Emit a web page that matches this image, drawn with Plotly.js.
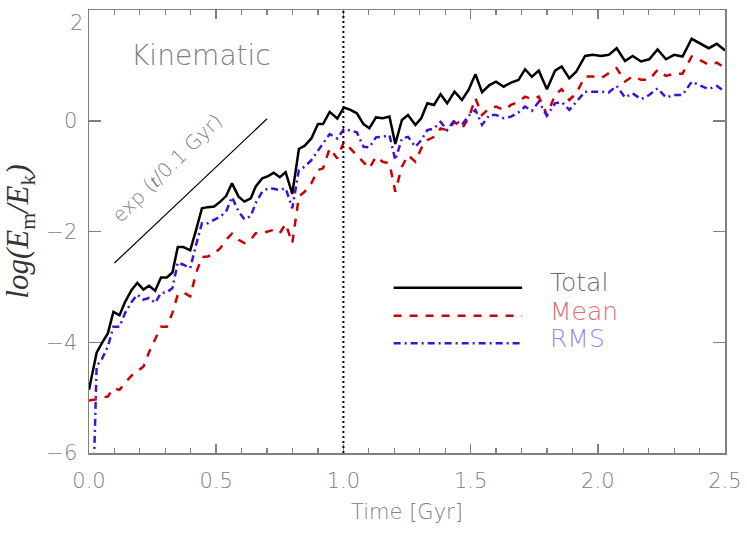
<!DOCTYPE html>
<html>
<head>
<meta charset="utf-8">
<script src="https://cdn.plot.ly/plotly-3.0.1.min.js"></script>
<style>
  html,body{margin:0;padding:0;background:#fff;}
  #chart{width:747px;height:534px;}
</style>
</head>
<body>
<div id="chart"></div>
<script>
// time axis (Gyr)
const times=[0.0,0.03,0.05,0.074,0.096,0.12,0.142,0.168,0.19,0.214,
  0.236,0.26,0.283,0.306,0.328,0.349,0.371,0.398,0.421,0.444,
  0.467,0.492,0.516,0.539,0.562,0.588,0.611,0.636,0.655,0.681,
  0.704,0.726,0.75,0.773,0.799,0.825,0.848,0.874,0.9,0.92,
  0.946,0.976,1.002,1.028,1.053,1.079,1.102,1.128,1.155,1.181,
  1.204,1.23,1.254,1.283,1.306,1.33,1.356,1.382,1.408,1.437,
  1.466,1.492,1.519,1.545,1.574,1.6,1.63,1.659,1.688,1.714,
  1.741,1.768,1.8,1.832,1.858,1.888,1.915,1.95,1.98,2.013,
  2.043,2.074,2.107,2.137,2.17,2.202,2.235,2.268,2.3,2.333,
  2.369,2.399,2.436,2.468,2.5];

const logTotal=[-4.86,-4.19,-4.02,-3.84,-3.45,-3.51,-3.27,-3.05,-2.93,-3.05,
  -2.98,-3.07,-2.83,-2.83,-2.74,-2.28,-2.28,-2.34,-1.97,-1.58,
  -1.56,-1.55,-1.46,-1.36,-1.13,-1.37,-1.46,-1.40,-1.19,-1.04,
  -1.00,-0.94,-1.02,-0.93,-1.32,-0.51,-0.45,-0.32,-0.06,-0.06,
  0.16,0.04,0.24,0.195,0.135,-0.06,-0.135,0.06,0.045,0.075,
  -0.42,0.015,0.105,-0.075,0.045,0.315,0.285,0.48,0.315,0.525,
  0.375,0.555,0.84,0.515,0.645,0.705,0.615,0.69,0.735,0.93,
  0.795,0.905,0.57,0.905,0.98,0.765,0.885,1.17,1.19,1.17,
  1.19,1.31,1.08,1.17,1.07,1.11,1.29,1.11,1.19,1.16,
  1.48,1.40,1.31,1.39,1.27];

const logMean=[-5.05,-5.03,-5.0,-4.98,-4.83,-4.86,-4.73,-4.6,-4.52,-4.44,
  -4.18,-3.96,-3.72,-3.72,-3.47,-3.14,-3.10,-3.17,-2.75,-2.46,
  -2.45,-2.40,-2.30,-2.15,-2.04,-2.15,-2.21,-2.15,-2.03,-2.03,
  -2.0,-1.97,-2.03,-1.86,-2.21,-1.37,-1.28,-1.13,-0.89,-0.86,
  -0.50,-0.68,-0.38,-0.50,-0.62,-0.74,-0.86,-0.65,-0.74,-0.77,
  -1.28,-0.83,-0.62,-0.74,-0.50,-0.35,-0.29,-0.14,-0.17,-0.02,
  -0.14,0.045,0.405,0.105,0.225,0.255,0.195,0.285,0.345,0.435,
  0.39,0.435,0.105,0.465,0.57,0.375,0.495,0.80,0.80,0.77,
  0.86,0.95,0.71,0.80,0.74,0.74,0.92,0.81,0.85,0.85,
  1.16,1.10,1.01,1.05,0.95];

const logRms=[-9.5,-4.43,-4.31,-4.08,-3.72,-3.72,-3.47,-3.27,-3.14,-3.23,
  -3.20,-3.29,-3.11,-3.10,-3.02,-2.56,-2.60,-2.66,-2.24,-1.85,
  -1.85,-1.79,-1.73,-1.64,-1.38,-1.64,-1.78,-1.72,-1.49,-1.28,
  -1.22,-1.23,-1.25,-1.22,-1.58,-0.89,-0.83,-0.71,-0.53,-0.41,
  -0.24,-0.32,-0.15,-0.18,-0.21,-0.47,-0.48,-0.30,-0.29,-0.26,
  -0.71,-0.32,-0.29,-0.47,-0.35,-0.17,-0.14,-0.02,-0.17,0.015,
  -0.075,0.09,0.195,-0.075,0.105,0.105,0.045,0.075,0.15,0.255,
  0.18,0.345,0.09,0.315,0.34,0.195,0.345,0.525,0.525,0.525,
  0.51,0.63,0.42,0.495,0.39,0.465,0.585,0.42,0.465,0.465,
  0.705,0.645,0.57,0.63,0.525];

// reference slope exp(t/0.1 Gyr) in log10 units
const expT=[0.1,0.7];
const expLog=[-2.57,0.035];

const xTicks=[0,0.5,1,1.5,2,2.5];
const yTicks=[-6,-4,-2,0,2];

const seriesNames=['Total','Mean','RMS'];
const seriesColors=['#000000','#cc0000','#4010d8'];
const labelColors=['#6e6e6e','#e06a6a','#9a88f0'];
const seriesDash=['solid','8px,8px','7px,4px,2px,4px'];

const textGrey='#808080';
const thin={family:'DejaVu Sans, sans-serif',weight:200};
const fmtY=v=>v<0?'\u2212'+(-v):String(v);

const traces=[
  {x:times,y:logTotal,name:seriesNames[0]},
  {x:times,y:logMean,name:seriesNames[1]},
  {x:times,y:logRms,name:seriesNames[2]}
].map((t,i)=>Object.assign(t,{type:'scatter',mode:'lines',
  line:{color:seriesColors[i],width:2.5,dash:seriesDash[i]},hoverinfo:'skip'}));

traces.push({x:expT,y:expLog,type:'scatter',mode:'lines',
  line:{color:'#000',width:1.2},hoverinfo:'skip',name:'exp'});

// legend drawn by hand (long line samples)
const legY=[0.373,0.310,0.248];
const legTextY=[0.384,0.319,0.258];
const shapes=[
  {type:'line',xref:'x',yref:'paper',x0:1,x1:1,y0:0,y1:1,
   line:{color:'#000',width:2,dash:'2px,3px'}}
];
const annotations=[
  {xref:'x',yref:'y',x:0.44,y:1.17,text:'Kinematic',showarrow:false,
   font:Object.assign({size:28,color:textGrey},thin)},
  {xref:'x',yref:'y',x:0.307,y:-0.857,textangle:-44.5,showarrow:false,
   text:'exp (<span style="font-family:Liberation Serif;font-style:italic;">t</span>/0.1 Gyr)',
   font:Object.assign({size:20,color:textGrey},thin)},
  // top y label sits just inside the frame, as in the original
  {xref:'paper',yref:'paper',x:0,y:1,xanchor:'right',yanchor:'top',xshift:-4,yshift:1,
   text:fmtY(yTicks[yTicks.length-1]),showarrow:false,
   font:Object.assign({size:21,color:textGrey},thin)}
];
seriesNames.forEach((n,i)=>{
  shapes.push({type:'line',xref:'paper',yref:'paper',x0:0.479,x1:0.681,y0:legY[i],y1:legY[i],
    line:{color:seriesColors[i],width:2.5,dash:seriesDash[i]}});
  annotations.push({xref:'paper',yref:'paper',x:0.7216,y:legTextY[i],xanchor:'left',yanchor:'middle',
    text:n,showarrow:false,font:Object.assign({size:25,color:labelColors[i]},thin)});
});

const axisCommon={showgrid:false,zeroline:false,showline:true,linecolor:'#808080',linewidth:1.5,
  mirror:'ticks',ticks:'inside',tickcolor:'#808080',tickwidth:1.5,tickmode:'array',
  tickfont:Object.assign({size:21,color:textGrey},thin)};

const layout={
  width:747,height:534,
  margin:{l:89,r:22,t:10,b:81},
  paper_bgcolor:'#fff',plot_bgcolor:'#fff',
  showlegend:false,
  xaxis:Object.assign({},axisCommon,{range:[0,2.5],tickvals:xTicks,
    ticktext:xTicks.map(v=>v.toFixed(1)),ticklen:9,
    minor:{dtick:0.1,tick0:0,ticks:'inside',ticklen:5,tickcolor:'#808080',tickwidth:1.2,showgrid:false},
    ticklabelstandoff:8,
    title:{text:'Time [Gyr]',standoff:12,font:Object.assign({size:21,color:textGrey},thin)}}),
  yaxis:Object.assign({},axisCommon,{range:[-6,2],tickvals:yTicks,
    ticktext:yTicks.map((v,i)=>i===yTicks.length-1?'':fmtY(v)),ticklen:12,ticklabelstandoff:6,
    title:{text:'<i>log(E</i><sub>m</sub><i>/E</i><sub>k</sub><i>)</i>',standoff:8,
      font:{family:'Liberation Serif, serif',size:31,color:'#333'}}}),
  shapes:shapes,
  annotations:annotations
};

Plotly.newPlot('chart',traces,layout,{staticPlot:true,displayModeBar:false});
</script>
</body>
</html>
